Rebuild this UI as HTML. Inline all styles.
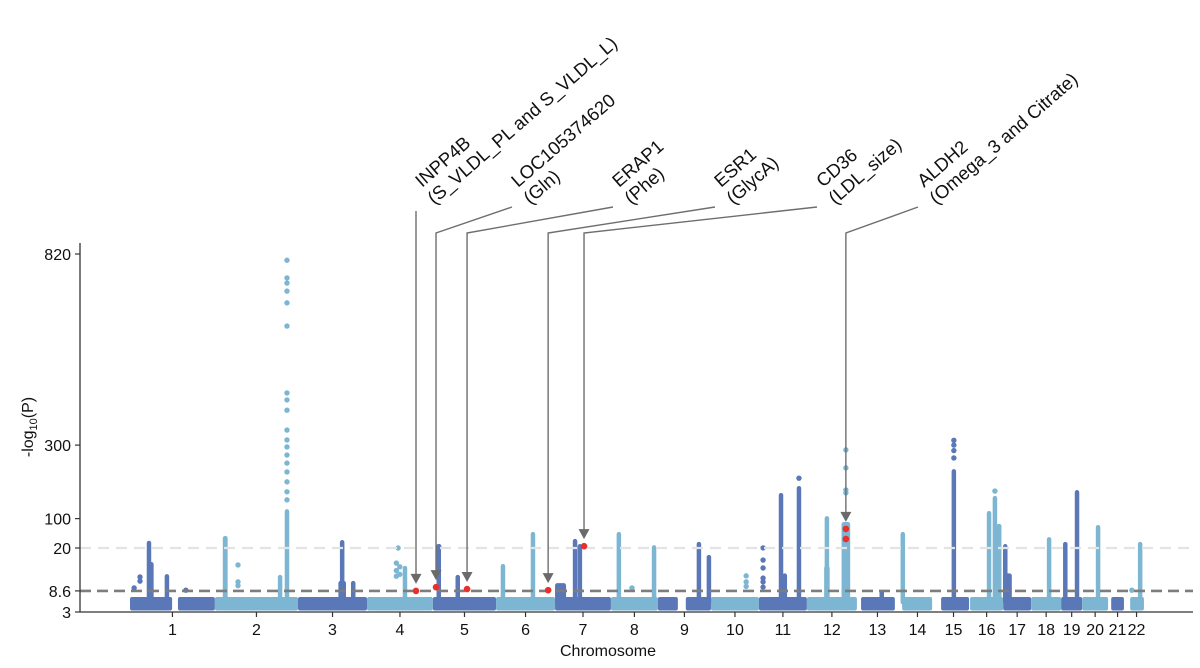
<!DOCTYPE html>
<html><head><meta charset="utf-8"><style>
body{margin:0;background:#fff;}
svg{display:block;font-family:"Liberation Sans",Arial,sans-serif;}
</style></head><body>
<svg id="chart" width="1200" height="668" viewBox="0 0 1200 668" xmlns="http://www.w3.org/2000/svg">
<g id="bands"></g>
<g id="peaks"></g>
<g id="pts"></g>
<g id="thr"></g>
<g id="reds"></g>
<g id="ann"></g>
<g id="axes"></g>
</svg>
<script>
const chromNames=["1","2","3","4","5","6","7","8","9","10","11","12","13","14","15","16","17","18","19","20","21","22"];
const chromLengths=[246,241,200,191,183,171,162,136,154,139,139,145,119,113,96,96,81,87,61,75,55,55];
// data segments [chr, startMb, endMb]
const segments=[[1,0,122],[1,139,246],[2,0,241],[3,0,200],[4,0,191],[5,0,183],[6,0,171],[7,0,162],[8,0,136],[9,0,58],[9,81,154],[10,0,139],[11,0,139],[12,0,145],[13,12,110],[14,12,99],[15,12,93],[16,0,96],[17,0,81],[18,0,87],[19,0,61],[20,0,75],[21,9,46],[22,9,49]];
// peaks [chr, posMb, topValue, widthMb]
const peaks=[[1,55,37,12],[1,62,16,10],[1,107,12.8,10],[2,30,50,14],[2,189,12.6,6],[2,209,123,12],[3,128,11,22],[3,128,39,12],[3,160,11,8],[4,110,15,8],[5,17,28,10],[5,72,12.6,10],[6,20,15.5,12],[6,107,61,10],[7,16,10.4,32],[7,58,42,12],[7,72,28,10],[8,23,61,10],[8,125,25,8],[9,119,34,10],[9,148,17.9,10],[11,64,167,10],[11,75,13,10],[11,116,186,10],[12,58,15,16],[12,58,104,10],[12,113,88,25],[13,72,8.5,8],[14,14,61,10],[15,49,232,12],[16,55,118,10],[16,72,159,10],[16,84,83,14],[17,15,13,20],[17,6,28,10],[18,52,47,10],[19,12,34,10],[19,46,175,10],[20,46,80,10],[22,38,34,10]];
// isolated points [chr, posMb, value]
const points=[[1,12,9.4],[1,29,12.3],[1,29,11.2],[1,162,8.8],[2,67,15.5],[2,67,11],[2,67,10],
[2,209,803],[2,209,755],[2,209,741],[2,209,719],[2,209,687],[2,209,624],[2,209,442],[2,209,423],[2,209,395],[2,209,341],[2,209,314],[2,209,295],[2,209,273],[2,209,251],[2,209,227],[2,209,200],[2,209,173],[2,209,151],
[4,90,20],[4,85,16],[4,85,14],[4,85,12.5],[4,95,15],[4,95,13],[5,17,24],[5,17,20],
[8,61,9.4],[10,102,12.6],[10,102,11],[10,102,9.8],
[11,12,20.3],[11,12,16.8],[11,12,14.7],[11,12,12],[11,12,11],[11,12,9.6],[11,116,210],
[12,113,287],[12,113,238],[12,113,178],[12,113,170],
[15,49,313],[15,49,300],[15,49,285],[15,49,265],[16,72,175],[22,14,8.8]];
// highlighted SNPs [chr, posMb, value]
const redPoints=[[4,142,8.6],[5,9,9.6],[5,99,9.1],[6,151,8.8],[7,84,25],[12,113,72],[12,113,44.5]];
const annLabels=[["INPP4B","(S_VLDL_PL and S_VLDL_L)"],["LOC105374620","(Gln)"],["ERAP1","(Phe)"],["ESR1","(GlycA)"],["CD36","(LDL_size)"],["ALDH2","(Omega_3 and Citrate)"]];
const annTargets=[0,1,2,3,4,5];
const yTicks=[3,8.6,20,100,300,820];
const yTickLabels=["3","8.6","20","100","300","820"];

const NS="http://www.w3.org/2000/svg";
const X0=130,PX=0.345;
const cum=[];let acc=0;chromLengths.forEach(l=>{cum.push(acc);acc+=l;});
function xs(chr,pos){return X0+(cum[chr-1]+pos)*PX;}
function ys(v){return v<=20?612-(v-3)*(64/17):548-(v-20)*(294/800);}
const dark="#5a77b8",light="#7cb6d2";
function col(chr){return chr%2===1?dark:light;}
function mk(tag,attrs,parent){const e=document.createElementNS(NS,tag);for(const k in attrs)e.setAttribute(k,attrs[k]);parent.appendChild(e);return e;}
const G=id=>document.getElementById(id);

segments.forEach(s=>{
 const x1=xs(s[0],s[1]),x2=xs(s[0],s[2]);
 const r=mk("rect",{x:x1,y:ys(7),width:x2-x1,height:ys(3.4)-ys(7),rx:2,fill:col(s[0])},G("bands"));
 
 
});
peaks.forEach(p=>{
 const w=Math.max(p[3]*PX,4.5),xc=xs(p[0],p[1]),yt=ys(p[2]);
 const r=mk("rect",{x:xc-w/2,y:yt-1,width:w,height:ys(5)-yt+1,rx:2.3,fill:col(p[0])},G("peaks"));
 
 
});
points.forEach(p=>{
 const c=mk("circle",{cx:xs(p[0],p[1]),cy:ys(p[2]),r:2.7,fill:col(p[0])},G("pts"));
 
 
});
const t1=mk("line",{x1:80,x2:1193,y1:ys(20),y2:ys(20),stroke:"#e3e3e3","stroke-width":2.2,"stroke-dasharray":"11 7"},G("thr"));


const t2=mk("line",{x1:80,x2:1193,y1:ys(8.6),y2:ys(8.6),stroke:"#7d7d7d","stroke-width":2.6,"stroke-dasharray":"11 6"},G("thr"));


redPoints.forEach(p=>{
 const c=mk("circle",{cx:xs(p[0],p[1]),cy:ys(p[2]),r:3.3,fill:"#e8302a"},G("reds"));
 
 
});
const labelX=[416,512,613,715,817,918];
annLabels.forEach((lab,i)=>{
 const rp=redPoints[annTargets[i]];
 const tx=xs(rp[0],rp[1]),ty=ys(rp[2])-7;
 const lx=labelX[i];
 const d=(Math.abs(lx-tx)<2)?`M${tx},211 L${tx},${ty-9}`:`M${lx},207 L${tx},233 L${tx},${ty-9}`;
 const pth=mk("path",{d:d,fill:"none",stroke:"#6e6e6e","stroke-width":1.4},G("ann"));
 
 
 const ah=mk("path",{d:`M${tx-5.5},${ty-10} L${tx+5.5},${ty-10} L${tx},${ty} Z`,fill:"#6a6a6a"},G("ann"));
 
 
 const t=mk("text",{transform:`translate(${lx+6},188) rotate(-41)`,"font-size":18.5,fill:"#111"},G("ann"));
 
 
 const s1=mk("tspan",{x:0,y:0},t);s1.textContent=lab[0];
 const s2=mk("tspan",{x:-2,y:21},t);s2.textContent=lab[1];
});
const ax=G("axes");
const ya=mk("line",{x1:80,x2:80,y1:243,y2:612,stroke:"#333","stroke-width":1.3},ax);


const xa=mk("line",{x1:80,x2:1193,y1:612,y2:612,stroke:"#333","stroke-width":1.3},ax);


yTicks.forEach((v,i)=>{
 const y=ys(v);
 mk("line",{x1:75,x2:80,y1:y,y2:y,stroke:"#333","stroke-width":1.2},ax);
 const t=mk("text",{x:71,y:y+6,"text-anchor":"end","font-size":16,fill:"#111"},ax);
 
 
 t.textContent=yTickLabels[i];
});
chromNames.forEach((n,i)=>{
 const x=xs(i+1,chromLengths[i]/2);
 mk("line",{x1:x,x2:x,y1:612,y2:617,stroke:"#333","stroke-width":1.2},ax);
 const t=mk("text",{x:x,y:635,"text-anchor":"middle","font-size":16,fill:"#111"},ax);
 
 
 t.textContent=n;
});
const xt=mk("text",{x:608,y:656,"text-anchor":"middle","font-size":16,fill:"#111"},ax);


xt.textContent="Chromosome";
const yt=mk("text",{transform:"translate(33,427) rotate(-90)","text-anchor":"middle","font-size":16,fill:"#111"},ax);


const a1=mk("tspan",{},yt);a1.textContent="-log";
const a2=mk("tspan",{"font-size":11,dy:4},yt);a2.textContent="10";
const a3=mk("tspan",{dy:-4},yt);a3.textContent="(P)";
</script>
</body></html>
